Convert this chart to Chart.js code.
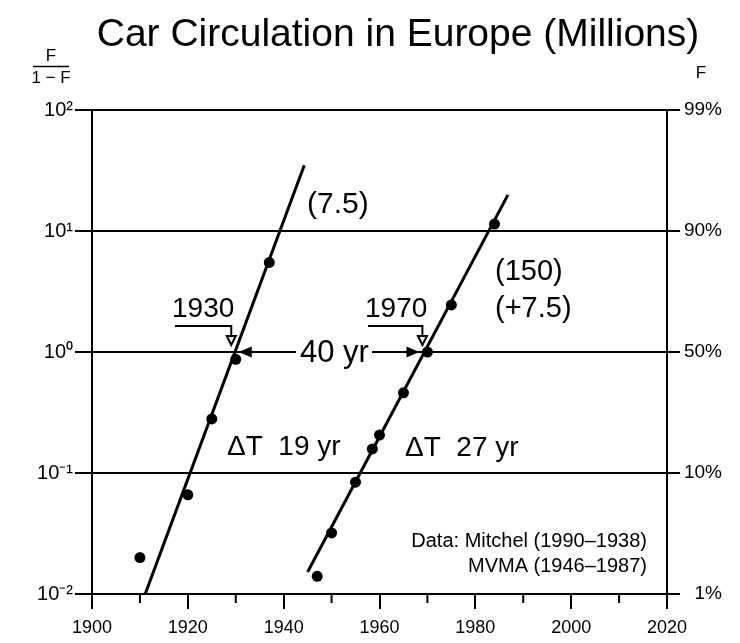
<!DOCTYPE html>
<html>
<head>
<meta charset="utf-8">
<script src="https://cdn.jsdelivr.net/npm/chart.js@4.4.0/dist/chart.umd.min.js"></script>
<style>
  html, body { margin: 0; padding: 0; background: #fff; }
  #wrap { width: 740px; height: 643px; }
</style>
</head>
<body>
<div id="wrap"><canvas id="carChart" width="740" height="643"></canvas></div>
<script>
// F/(1-F) values
const yearsEarly = [1910, 1920, 1925, 1930, 1937];
const valuesEarly = [0.02, 0.066, 0.28, 0.87, 5.5];
const fitEarlyYears = [1911.1, 1944.3];
const fitEarlyValues = [0.01, 35];

const yearsLate = [1947, 1950, 1955, 1958.5, 1960, 1965, 1970, 1975, 1984];
const valuesLate = [0.014, 0.032, 0.084, 0.158, 0.206, 0.46, 1.0, 2.45, 11.4];
const fitLateYears = [1945, 1986.8];
const fitLateValues = [0.0152, 19.9];

const yTicks = [0.01, 0.1, 1, 10, 100];
const yTickLabels = ["10⁻²", "10⁻¹", "10⁰", "10¹", "10²"];
const fTickLabels = ["1%", "10%", "50%", "90%", "99%"];
const xMajorTicks = [1900, 1920, 1940, 1960, 1980, 2000, 2020];
const xMinorTicks = [1910, 1930, 1950, 1970, 1990, 2010];

const FONT = '"Liberation Sans", Arial, sans-serif';

function toPoints(xs, ys) {
  return xs.map((x, i) => ({ x: x, y: ys[i] }));
}

function labelFor(list, v) {
  const i = yTicks.findIndex(t => Math.abs(t - v) / t < 1e-6);
  return i >= 0 ? list[i] : "";
}

// minor x ticks, title, axis titles and the text notes
const annotations = {
  id: "annotations",
  afterDraw(chart) {
    const ctx = chart.ctx;
    const xs = chart.scales.x;
    const ys = chart.scales.y;
    const X = v => xs.getPixelForValue(v);
    const Y = v => ys.getPixelForValue(v);
    ctx.save();
    ctx.fillStyle = "#000";
    ctx.strokeStyle = "#000";

    // minor ticks below the x axis
    ctx.lineWidth = 2;
    xMinorTicks.forEach(t => {
      ctx.beginPath();
      ctx.moveTo(X(t), ys.bottom);
      ctx.lineTo(X(t), ys.bottom + 9);
      ctx.stroke();
    });

    // title
    ctx.textAlign = "center";
    ctx.textBaseline = "alphabetic";
    ctx.font = "39px " + FONT;
    ctx.fillText("Car Circulation in Europe (Millions)", 398, 46);

    // left axis title F / (1 - F)
    ctx.font = "17px " + FONT;
    ctx.fillText("F", 51, 61);
    ctx.fillText("1 − F", 51, 83);
    ctx.lineWidth = 1.5;
    ctx.beginPath();
    ctx.moveTo(33, 66.5);
    ctx.lineTo(69, 66.5);
    ctx.stroke();
    // right axis title
    ctx.fillText("F", 701, 78);

    // labels next to the curves
    ctx.textAlign = "left";
    ctx.font = "30px " + FONT;
    ctx.fillText("(7.5)", 307, 213);
    ctx.font = "29px " + FONT;
    ctx.fillText("(150)", 495, 280);
    ctx.fillText("(+7.5)", 495, 317);

    // 1930 / 1970 markers with open arrows
    ctx.font = "28px " + FONT;
    ctx.fillText("1930", 172, 317);
    ctx.fillText("1970", 365, 317);
    ctx.lineWidth = 2;
    [[175, X(1930) - 4.5], [368, X(1970) - 5]].forEach(([x0, x1]) => {
      const y1 = Y(1);
      ctx.beginPath();
      ctx.moveTo(x0, 326);
      ctx.lineTo(x1, 326);
      ctx.lineTo(x1, y1 - 16);
      ctx.stroke();
      ctx.beginPath();
      ctx.moveTo(x1 - 4.5, y1 - 16);
      ctx.lineTo(x1 + 4.5, y1 - 16);
      ctx.lineTo(x1, y1 - 7);
      ctx.closePath();
      ctx.fillStyle = "#fff";
      ctx.fill();
      ctx.stroke();
      ctx.fillStyle = "#000";
    });

    // 40 yr double arrow on the 50% line
    const yMid = Y(1);
    ctx.fillStyle = "#fff";
    ctx.fillRect(296, yMid - 6, 76, 12);
    ctx.fillStyle = "#000";
    ctx.font = "31px " + FONT;
    ctx.fillText("40 yr", 300, 362);
    const leftTip = X(1930) + 3;
    const rightTip = X(1970) - 8;
    ctx.beginPath();
    ctx.moveTo(leftTip, yMid);
    ctx.lineTo(leftTip + 13, yMid - 5.5);
    ctx.lineTo(leftTip + 13, yMid + 5.5);
    ctx.closePath();
    ctx.fill();
    ctx.beginPath();
    ctx.moveTo(rightTip, yMid);
    ctx.lineTo(rightTip - 13, yMid - 5.5);
    ctx.lineTo(rightTip - 13, yMid + 5.5);
    ctx.closePath();
    ctx.fill();

    // delta T notes
    ctx.font = "28px " + FONT;
    ctx.fillText("ΔT  19 yr", 227, 455);
    ctx.fillText("ΔT  27 yr", 405, 456);

    // data sources
    ctx.textAlign = "right";
    ctx.font = "20px " + FONT;
    ctx.fillText("Data: Mitchel (1990–1938)", 647, 547);
    ctx.fillText("MVMA (1946–1987)", 647, 572);

    ctx.restore();
  }
};

const ctx = document.getElementById("carChart").getContext("2d");
new Chart(ctx, {
  type: "scatter",
  data: {
    datasets: [
      {
        label: "Mitchel",
        data: toPoints(yearsEarly, valuesEarly),
        backgroundColor: "#000",
        borderWidth: 0,
        pointRadius: 5.5
      },
      {
        label: "Fit 1",
        data: toPoints(fitEarlyYears, fitEarlyValues),
        showLine: true,
        borderColor: "#000",
        borderWidth: 3,
        pointRadius: 0
      },
      {
        label: "MVMA",
        data: toPoints(yearsLate, valuesLate),
        backgroundColor: "#000",
        borderWidth: 0,
        pointRadius: 5.5
      },
      {
        label: "Fit 2",
        data: toPoints(fitLateYears, fitLateValues),
        showLine: true,
        borderColor: "#000",
        borderWidth: 3,
        pointRadius: 0
      }
    ]
  },
  options: {
    responsive: false,
    animation: false,
    layout: { padding: { top: 110, right: 18, left: 0, bottom: 0 } },
    plugins: {
      legend: { display: false },
      tooltip: { enabled: false },
      title: { display: false }
    },
    scales: {
      x: {
        type: "linear",
        position: "bottom",
        min: 1900,
        max: 2020,
        afterBuildTicks: s => { s.ticks = xMajorTicks.map(v => ({ value: v })); },
        afterFit: s => { s.height = 49; },
        grid: { drawOnChartArea: false, tickLength: 15, color: "#000", lineWidth: 2 },
        border: { color: "#000", width: 2 },
        ticks: {
          color: "#000",
          font: { family: FONT, size: 18 },
          padding: 8,
          maxRotation: 0,
          callback: v => String(v)
        }
      },
      y: {
        type: "logarithmic",
        position: "left",
        min: 0.01,
        max: 100,
        afterBuildTicks: s => { s.ticks = yTicks.map(v => ({ value: v })); },
        afterFit: s => { s.width = 92; },
        grid: { color: "#000", lineWidth: 2, tickLength: 17 },
        border: { color: "#000", width: 2 },
        ticks: {
          color: "#000",
          font: { family: FONT, size: 20 },
          padding: 2,
          callback: v => labelFor(yTickLabels, v)
        }
      },
      y2: {
        type: "logarithmic",
        position: "right",
        min: 0.01,
        max: 100,
        afterBuildTicks: s => { s.ticks = yTicks.map(v => ({ value: v })); },
        afterFit: s => { s.width = 55; },
        grid: { drawOnChartArea: false, color: "#000", lineWidth: 2, tickLength: 13 },
        border: { color: "#000", width: 2 },
        ticks: {
          color: "#000",
          font: { family: FONT, size: 19 },
          padding: 2,
          crossAlign: "far",
          callback: v => labelFor(fTickLabels, v)
        }
      }
    }
  },
  plugins: [annotations]
});
</script>
</body>
</html>
